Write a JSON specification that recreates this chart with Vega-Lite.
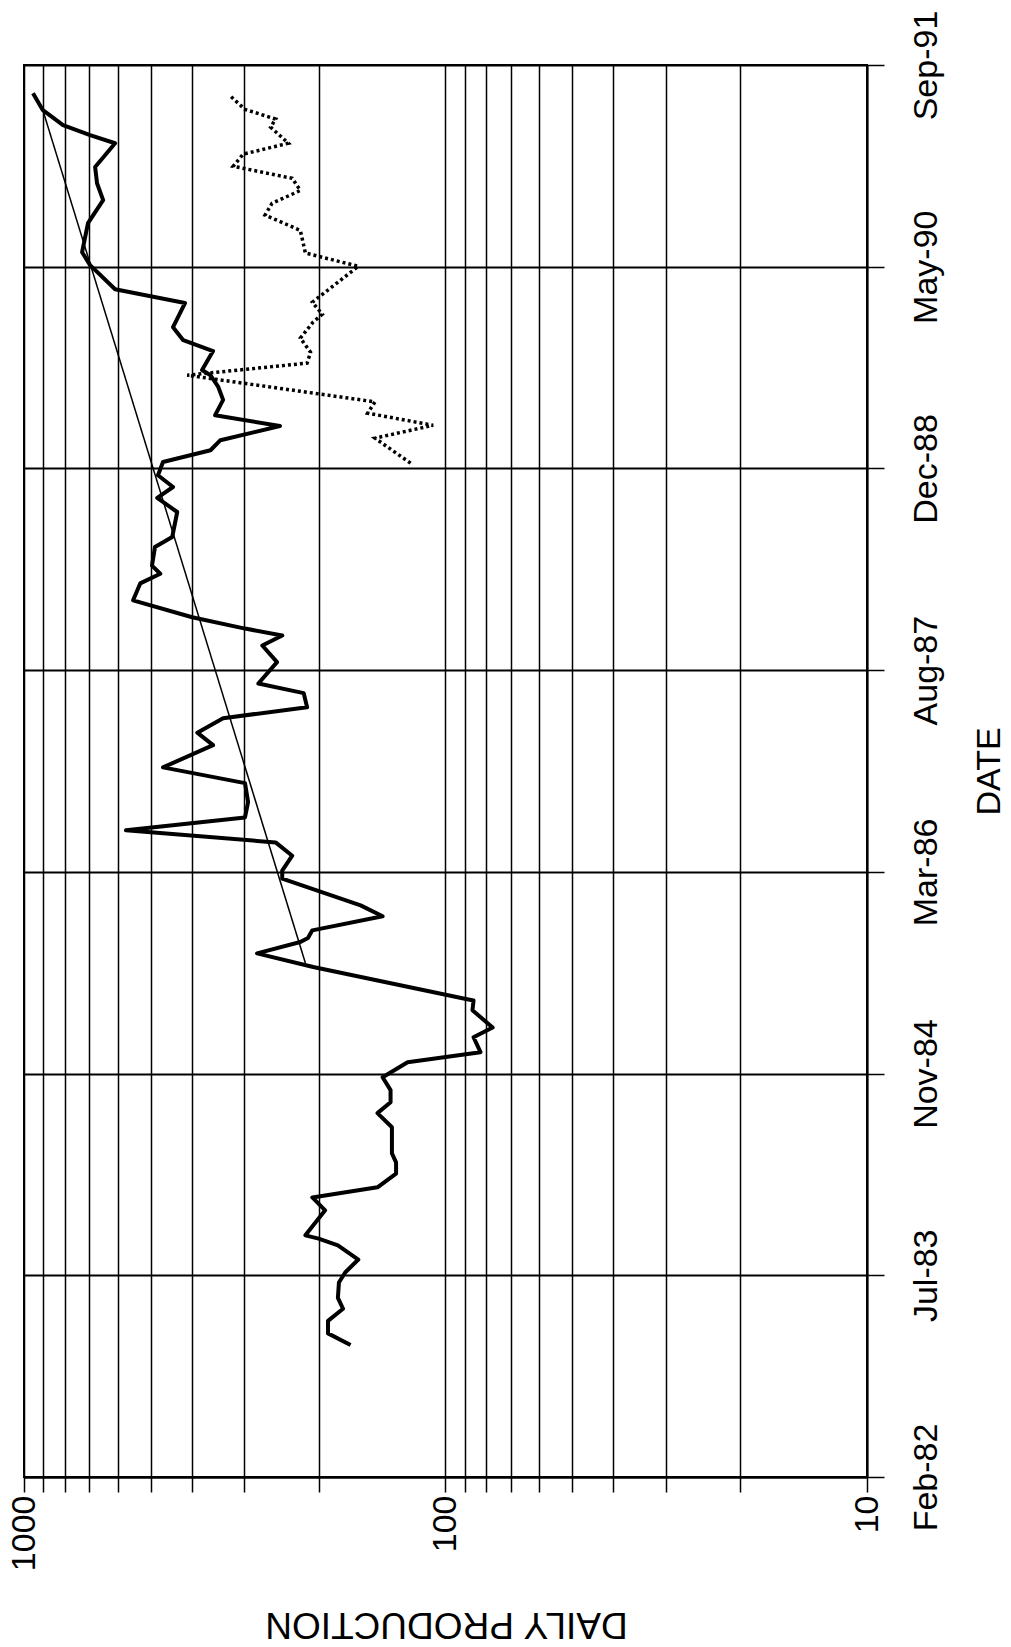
{
  "$schema": "https://vega.github.io/schema/vega-lite/v6.json",
  "autosize": "none",
  "width": 843,
  "height": 1412,
  "padding": {"left": 24, "top": 65, "right": 144, "bottom": 170},
  "background": "white",
  "config": {
    "font": "Liberation Sans",
    "view": {"stroke": "black", "strokeWidth": 2},
    "axis": {
      "gridColor": "black",
      "gridOpacity": 1,
      "domainColor": "black",
      "domainWidth": 2,
      "tickColor": "black",
      "tickWidth": 1.5,
      "labelColor": "black",
      "titleColor": "black",
      "labelFont": "Liberation Sans",
      "titleFont": "Liberation Sans",
      "labelFontSize": 34,
      "labelFlush": false,
      "labelBound": false,
      "labelOverlap": false,
      "titleFontWeight": "normal"
    }
  },
  "data": {
    "values": [
      {"series": "trend", "date": "1985-08-17", "production": 215},
      {"series": "trend", "date": "1991-06-01", "production": 902},
      {"series": "actual", "date": "1983-01-13", "production": 168},
      {"series": "actual", "date": "1983-02-11", "production": 190},
      {"series": "actual", "date": "1983-03-14", "production": 190},
      {"series": "actual", "date": "1983-04-13", "production": 175},
      {"series": "actual", "date": "1983-05-10", "production": 180},
      {"series": "actual", "date": "1983-06-17", "production": 179},
      {"series": "actual", "date": "1983-07-12", "production": 173},
      {"series": "actual", "date": "1983-08-13", "production": 161},
      {"series": "actual", "date": "1983-09-17", "production": 180},
      {"series": "actual", "date": "1983-10-04", "production": 200},
      {"series": "actual", "date": "1983-10-12", "production": 215},
      {"series": "actual", "date": "1983-12-13", "production": 193},
      {"series": "actual", "date": "1984-01-14", "production": 207},
      {"series": "actual", "date": "1984-02-08", "production": 145},
      {"series": "actual", "date": "1984-03-13", "production": 131},
      {"series": "actual", "date": "1984-04-10", "production": 131},
      {"series": "actual", "date": "1984-05-02", "production": 134},
      {"series": "actual", "date": "1984-07-06", "production": 134},
      {"series": "actual", "date": "1984-08-10", "production": 145},
      {"series": "actual", "date": "1984-09-06", "production": 135},
      {"series": "actual", "date": "1984-10-06", "production": 135},
      {"series": "actual", "date": "1984-11-07", "production": 141},
      {"series": "actual", "date": "1984-12-14", "production": 123},
      {"series": "actual", "date": "1985-01-08", "production": 82.6},
      {"series": "actual", "date": "1985-02-14", "production": 85.8},
      {"series": "actual", "date": "1985-03-10", "production": 77.3},
      {"series": "actual", "date": "1985-04-22", "production": 86.3},
      {"series": "actual", "date": "1985-05-16", "production": 85.8},
      {"series": "actual", "date": "1985-05-21", "production": 90.6},
      {"series": "actual", "date": "1985-08-07", "production": 206},
      {"series": "actual", "date": "1985-09-10", "production": 280},
      {"series": "actual", "date": "1985-10-08", "production": 221},
      {"series": "actual", "date": "1985-10-18", "production": 212},
      {"series": "actual", "date": "1985-11-06", "production": 207},
      {"series": "actual", "date": "1985-12-11", "production": 141},
      {"series": "actual", "date": "1986-01-07", "production": 159},
      {"series": "actual", "date": "1986-03-14", "production": 244},
      {"series": "actual", "date": "1986-04-03", "production": 244},
      {"series": "actual", "date": "1986-05-10", "production": 231},
      {"series": "actual", "date": "1986-06-12", "production": 253},
      {"series": "actual", "date": "1986-07-12", "production": 573},
      {"series": "actual", "date": "1986-08-13", "production": 299},
      {"series": "actual", "date": "1986-09-20", "production": 294},
      {"series": "actual", "date": "1986-11-06", "production": 299},
      {"series": "actual", "date": "1986-12-15", "production": 468},
      {"series": "actual", "date": "1987-02-08", "production": 356},
      {"series": "actual", "date": "1987-03-11", "production": 388},
      {"series": "actual", "date": "1987-04-16", "production": 337},
      {"series": "actual", "date": "1987-05-13", "production": 213},
      {"series": "actual", "date": "1987-06-17", "production": 217},
      {"series": "actual", "date": "1987-07-11", "production": 278},
      {"series": "actual", "date": "1987-09-02", "production": 251},
      {"series": "actual", "date": "1987-10-13", "production": 272},
      {"series": "actual", "date": "1987-11-07", "production": 244},
      {"series": "actual", "date": "1987-11-24", "production": 299},
      {"series": "actual", "date": "1987-12-22", "production": 399},
      {"series": "actual", "date": "1988-02-02", "production": 551},
      {"series": "actual", "date": "1988-03-15", "production": 530},
      {"series": "actual", "date": "1988-04-08", "production": 475},
      {"series": "actual", "date": "1988-04-28", "production": 497},
      {"series": "actual", "date": "1988-06-13", "production": 489},
      {"series": "actual", "date": "1988-07-08", "production": 445},
      {"series": "actual", "date": "1988-09-08", "production": 433},
      {"series": "actual", "date": "1988-10-13", "production": 483},
      {"series": "actual", "date": "1988-11-09", "production": 443},
      {"series": "actual", "date": "1988-12-08", "production": 481},
      {"series": "actual", "date": "1989-01-10", "production": 468},
      {"series": "actual", "date": "1989-02-08", "production": 361},
      {"series": "actual", "date": "1989-03-05", "production": 342},
      {"series": "actual", "date": "1989-04-09", "production": 247},
      {"series": "actual", "date": "1989-05-06", "production": 352},
      {"series": "actual", "date": "1989-06-13", "production": 337},
      {"series": "actual", "date": "1989-07-15", "production": 346},
      {"series": "actual", "date": "1989-08-13", "production": 361},
      {"series": "actual", "date": "1989-08-26", "production": 378},
      {"series": "actual", "date": "1989-10-12", "production": 356},
      {"series": "actual", "date": "1989-11-08", "production": 419},
      {"series": "actual", "date": "1989-12-10", "production": 443},
      {"series": "actual", "date": "1990-02-08", "production": 415},
      {"series": "actual", "date": "1990-03-14", "production": 608},
      {"series": "actual", "date": "1990-05-13", "production": 697},
      {"series": "actual", "date": "1990-06-14", "production": 728},
      {"series": "actual", "date": "1990-08-25", "production": 705},
      {"series": "actual", "date": "1990-10-21", "production": 649},
      {"series": "actual", "date": "1990-12-02", "production": 671},
      {"series": "actual", "date": "1991-01-11", "production": 678},
      {"series": "actual", "date": "1991-03-11", "production": 608},
      {"series": "actual", "date": "1991-03-31", "production": 697},
      {"series": "actual", "date": "1991-04-25", "production": 808},
      {"series": "actual", "date": "1991-06-01", "production": 902},
      {"series": "actual", "date": "1991-07-13", "production": 952},
      {"series": "dotted", "date": "1989-01-07", "production": 121},
      {"series": "dotted", "date": "1989-03-10", "production": 147},
      {"series": "dotted", "date": "1989-04-11", "production": 107},
      {"series": "dotted", "date": "1989-05-11", "production": 153},
      {"series": "dotted", "date": "1989-06-08", "production": 147},
      {"series": "dotted", "date": "1989-08-13", "production": 410},
      {"series": "dotted", "date": "1989-09-12", "production": 213},
      {"series": "dotted", "date": "1989-10-09", "production": 209},
      {"series": "dotted", "date": "1989-11-13", "production": 221},
      {"series": "dotted", "date": "1989-12-23", "production": 206},
      {"series": "dotted", "date": "1990-01-11", "production": 196},
      {"series": "dotted", "date": "1990-02-10", "production": 207},
      {"series": "dotted", "date": "1990-05-10", "production": 161},
      {"series": "dotted", "date": "1990-06-12", "production": 215},
      {"series": "dotted", "date": "1990-08-07", "production": 221},
      {"series": "dotted", "date": "1990-09-14", "production": 268},
      {"series": "dotted", "date": "1990-10-13", "production": 258},
      {"series": "dotted", "date": "1990-11-14", "production": 221},
      {"series": "dotted", "date": "1990-12-14", "production": 231},
      {"series": "dotted", "date": "1991-01-13", "production": 319},
      {"series": "dotted", "date": "1991-02-12", "production": 302},
      {"series": "dotted", "date": "1991-03-11", "production": 236},
      {"series": "dotted", "date": "1991-04-20", "production": 260},
      {"series": "dotted", "date": "1991-05-10", "production": 253},
      {"series": "dotted", "date": "1991-06-03", "production": 299},
      {"series": "dotted", "date": "1991-07-06", "production": 324}
    ]
  },
  "encoding": {
    "x": {
      "field": "production",
      "type": "quantitative",
      "scale": {"type": "log", "domain": [10, 1000], "reverse": true, "nice": false, "zero": false},
      "axis": {
        "orient": "bottom",
        "title": "DAILY PRODUCTION",
        "titleFontSize": 37,
        "titleAngle": 180,
        "titleAlign": "center",
        "titleBaseline": "alphabetic",
        "titleX": 422,
        "titleY": 135,
        "values": [10, 20, 30, 40, 50, 60, 70, 80, 90, 100, 200, 300, 400, 500, 600, 700, 800, 900, 1000],
        "format": "d",
        "labelExpr": "(datum.value == 10 || datum.value == 100 || datum.value == 1000) ? datum.label : ''",
        "labelAngle": -90,
        "labelAlign": "right",
        "labelBaseline": "middle",
        "labelPadding": 3,
        "tickSize": 15,
        "grid": true,
        "gridWidth": 1.5
      }
    },
    "y": {
      "field": "date",
      "type": "temporal",
      "scale": {
        "type": "utc",
        "domain": [
          {"year": 1982, "month": 2, "date": 20, "utc": true},
          {"year": 1991, "month": 9, "date": 21, "utc": true}
        ],
        "nice": false
      },
      "axis": {
        "orient": "right",
        "title": "DATE",
        "titleFontSize": 34,
        "titleAngle": -90,
        "titleAlign": "center",
        "titleBaseline": "alphabetic",
        "titleX": 132,
        "titleY": 706,
        "values": [
          {"year": 1982, "month": 2, "date": 20, "utc": true},
          {"year": 1983, "month": 7, "date": 5, "utc": true},
          {"year": 1984, "month": 11, "date": 16, "utc": true},
          {"year": 1986, "month": 3, "date": 31, "utc": true},
          {"year": 1987, "month": 8, "date": 13, "utc": true},
          {"year": 1988, "month": 12, "date": 25, "utc": true},
          {"year": 1990, "month": 5, "date": 9, "utc": true},
          {"year": 1991, "month": 9, "date": 21, "utc": true}
        ],
        "format": "%b-%y",
        "labelAngle": -90,
        "labelAlign": "center",
        "labelBaseline": "top",
        "labelPadding": 25,
        "tickSize": 17,
        "grid": true,
        "gridWidth": 2
      }
    },
    "order": {"field": "date", "type": "temporal"}
  },
  "layer": [
    {
      "transform": [{"filter": "datum.series == 'trend'"}],
      "mark": {"type": "line", "color": "black", "strokeWidth": 1.5}
    },
    {
      "transform": [{"filter": "datum.series == 'actual'"}],
      "mark": {"type": "line", "color": "black", "strokeWidth": 4, "strokeJoin": "round"}
    },
    {
      "transform": [{"filter": "datum.series == 'dotted'"}],
      "mark": {"type": "line", "color": "black", "strokeWidth": 3.5, "strokeDash": [3, 3]}
    }
  ]
}
